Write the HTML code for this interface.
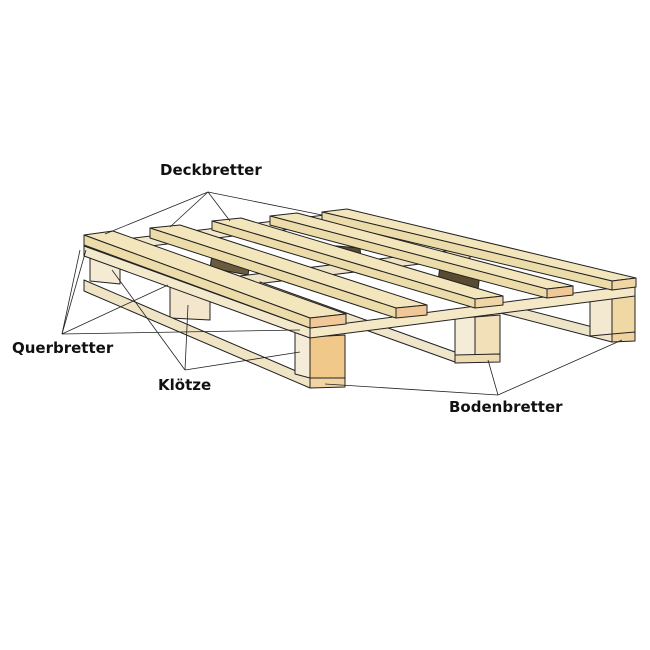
<!DOCTYPE html>
<html><head><meta charset="utf-8"><style>
html,body{margin:0;padding:0;background:#fff;width:650px;height:650px;overflow:hidden}
svg{display:block}
text{font-family:"DejaVu Sans","Liberation Sans",sans-serif;font-weight:bold;font-size:15px;fill:#111}
</style></head><body>
<svg width="650" height="650" viewBox="0 0 650 650" xmlns="http://www.w3.org/2000/svg">
<g stroke="#222" stroke-width="1" stroke-linejoin="round">
<!-- back cross board & middle cross board (visible between deck boards) -->
<polygon points="84,244 350,212 350,222 84,254" fill="#f2e8cc"/>
<polygon points="190,282 470,248 470,258 190,292" fill="#efe4c6"/>
<!-- dark gaps -->
<polygon points="325,245 360,248 362,268 322,262" fill="#5a4a32"/>
<polygon points="440,265 480,272 478,290 438,282" fill="#5a4a32"/>
<polygon points="212,255 250,262 248,275 210,268" fill="#6a5a3e"/>
<!-- bottom boards (back parts) -->
<polygon points="450,290 612,332 612,342 450,300" fill="#eee4c8"/>
<polygon points="260,282 455,352 455,362 260,292" fill="#efe6cc"/>
<!-- back blocks -->
<polygon points="90,250 120,252 120,284 90,281" fill="#f5ead4"/>
<polygon points="170,284 210,286 210,320 170,318" fill="#f4e6cc"/>
<!-- bottom left board -->
<polygon points="84,280 310,377 310,388 84,291" fill="#efe4c4"/>
<!-- right back blocks -->
<polygon points="590,296 612,294 612,334 590,336" fill="#f3e8d0"/>
<polygon points="612,294 635,292 635,334 612,334" fill="#f0d8a4"/>
<polygon points="612,334 635,332 635,341 612,342" fill="#eed2a0"/>
<!-- middle front block -->
<polygon points="455,318 475,317 475,355 455,355" fill="#f5ecd8"/>
<polygon points="475,317 500,315 500,354 475,355" fill="#f1e0b8"/>
<polygon points="455,355 500,354 500,362 455,363" fill="#eedcb0"/>
<!-- front left block -->
<polygon points="295,332 310,337 310,378 295,374" fill="#f4ecd8"/>
<polygon points="310,337 345,335 345,378 310,378" fill="#f0c88a"/>
<polygon points="310,378 345,378 345,387 310,388" fill="#f2d4a4"/>
<!-- cross boards -->
<polygon points="84,246 310,328 310,338 84,256" fill="#f3e9cc"/>
<polygon points="310,328 635,285 635,296 310,338" fill="#f4e8c6"/>
<!-- deck boards b5..b1 -->
<polygon points="322,212 347,209 636,278 612,281" fill="#f4e6bc"/>
<polygon points="322,212 612,281 612,290 322,221" fill="#ecdcaa"/>
<polygon points="612,281 636,278 636,287 612,290" fill="#f0d6a4"/>

<polygon points="270,216 297,213 573,286 547,289" fill="#f4e6bc"/>
<polygon points="270,216 547,289 547,298 270,225" fill="#ecdcaa"/>
<polygon points="547,289 573,286 573,295 547,298" fill="#f0c898"/>

<polygon points="212,221 241,218 503,296 475,299" fill="#f4e6bc"/>
<polygon points="212,221 475,299 475,308 212,230" fill="#ecdcaa"/>
<polygon points="475,299 503,296 503,305 475,308" fill="#f0d6a4"/>

<polygon points="150,228 180,225 427,305 396,308" fill="#f4e6bc"/>
<polygon points="150,228 396,308 396,318 150,238" fill="#ecdcaa"/>
<polygon points="396,308 427,305 427,315 396,318" fill="#f0c898"/>

<polygon points="84,235 113,231 346,314 310,318" fill="#f4e6bc"/>
<polygon points="84,235 310,318 310,328 84,245" fill="#ecdcaa"/>
<polygon points="310,318 346,314 346,324 310,328" fill="#f2c898"/>
</g>
<g stroke="#222" stroke-width="0.8" fill="none">
<line x1="208" y1="192" x2="105" y2="234"/>
<line x1="208" y1="192" x2="170" y2="227"/>
<line x1="208" y1="192" x2="230" y2="221"/>
<line x1="208" y1="192" x2="322" y2="215"/>
<line x1="62" y1="334" x2="86" y2="250"/>
<line x1="62" y1="334" x2="80" y2="250"/>
<line x1="62" y1="334" x2="168" y2="285"/>
<line x1="62" y1="334" x2="300" y2="330"/>
<line x1="185" y1="370" x2="112" y2="270"/>
<line x1="185" y1="370" x2="188" y2="305"/>
<line x1="185" y1="370" x2="300" y2="352"/>
<line x1="498" y1="395" x2="325" y2="384"/>
<line x1="498" y1="395" x2="488" y2="360"/>
<line x1="498" y1="395" x2="622" y2="340"/>
</g>
<text x="160" y="175">Deckbretter</text>
<text x="12" y="353">Querbretter</text>
<text x="158" y="390">Klötze</text>
<text x="449" y="412">Bodenbretter</text>
</svg>
</body></html>
